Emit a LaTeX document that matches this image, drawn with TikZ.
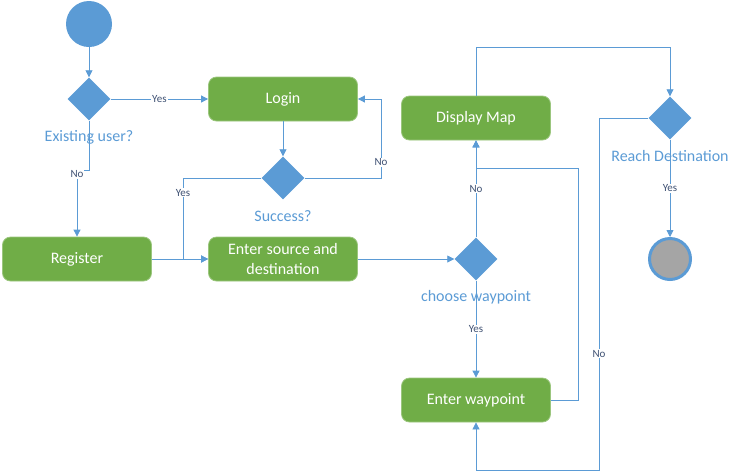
\documentclass[tikz,border=0pt]{standalone}
\usepackage{fontspec}
\setmainfont{Carlito}
\usepackage{xcolor}
\usetikzlibrary{arrows.meta,positioning,shapes.geometric}
\definecolor{vblue}{HTML}{5B9BD5}
\definecolor{vgreen}{HTML}{70AD47}
\definecolor{vgray}{HTML}{A5A5A5}
\definecolor{vdark}{HTML}{3F5173}

\begin{document}
\begin{tikzpicture}[
  x=1pt, y=-1pt,
  font=\fontsize{16}{20}\selectfont,
  >={Triangle[length=7pt,width=7pt]},
  act/.style={rectangle, rounded corners=8pt, fill=vgreen, draw=vgreen!70!white,
    line width=0.8pt, minimum width=149pt, minimum height=44pt, text=white,
    align=center, inner sep=2pt},
  dec/.style={diamond, fill=vblue, minimum width=43pt, minimum height=43pt, inner sep=0pt},
  qtext/.style={text=vblue},
  e/.style={->, line width=0.8pt, draw=vblue},
  lbl/.style={font=\fontsize{11}{12}\selectfont, text=vdark, fill=white, inner sep=1pt},
]
\useasboundingbox (0,0) rectangle (738,472);

\node[circle, fill=vblue, minimum size=46pt, inner sep=0pt] (start) at (89,24) {};
\node[dec] (user) at (89,99) {};
\node[qtext] (userq) at (89,137) {Existing user?};
\node[act] (login) at (283,99) {Login};
\node[dec] (succ) at (283,178) {};
\node[qtext] (succq) at (283,216) {Success?};
\node[act] (reg) at (77,259) {Register};
\node[act] (src) at (283,259) {Enter source and\\destination};
\node[dec] (wp) at (476,259) {};
\node[qtext] (wpq) at (476,297) {choose waypoint};
\node[act] (map) at (476,118) {Display Map};
\node[act] (ewp) at (476,400) {Enter waypoint};
\node[dec] (reach) at (670,118) {};
\node[qtext] (reachq) at (670,156) {Reach Destination};
\node[circle, fill=vgray, draw=vblue, line width=3pt, minimum size=41pt, inner sep=0pt] (end) at (670,259) {};

\draw[e] (start) -- (user);
\draw[e] (user) -- node[lbl]{Yes} (login);
\draw[e] (user.south) -- (89,170) -| node[lbl, pos=0.53]{No} (reg.north);
\draw[e] (login) -- (succ);
\draw[e] (succ.east) -- (381,178) |- node[lbl, pos=0.1]{No} (login.east);
\draw[e] (succ.west) -- (183,178) |- node[lbl, pos=0.09]{Yes} (src.west);
\draw[e] (reg) -- (src);
\draw[e] (src) -- (wp);
\draw[e] (wp) -- node[lbl]{No} (map);
\draw[e] (wp) -- node[lbl]{Yes} (ewp);
\draw[e] (ewp.east) -- (578,400) |- (476,168) -- (map.south);
\draw[e] (map.north) |- (670,47) -- (reach.north);
\draw[e] (reach) -- node[lbl]{Yes} (end);
\draw[e] (reach.west) -- (599,118) -- node[lbl, pos=0.67]{No} (599,470) -| (ewp.south);
\end{tikzpicture}
\end{document}
